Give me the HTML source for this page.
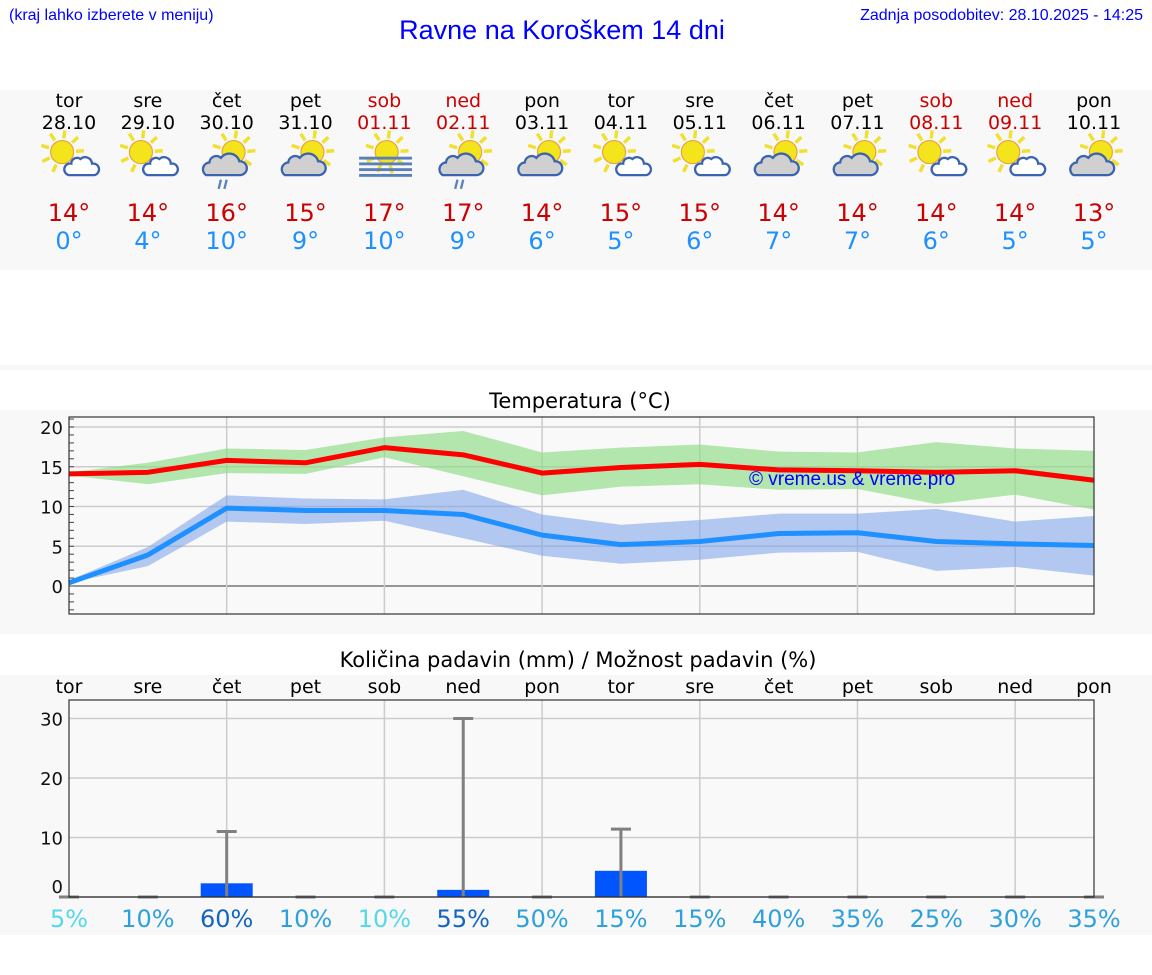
<!DOCTYPE html>
<html><head><meta charset="utf-8">
<style>
body{margin:0;width:1152px;height:975px;background:#fff;position:relative;overflow:hidden;font-family:"DejaVu Sans","Liberation Sans",sans-serif}
.abs{position:absolute}
</style></head>
<body>
<div class="abs" style="left:9px;top:7px;font:16px 'Liberation Sans',sans-serif;color:#0000ff">(kraj lahko izberete v meniju)</div>
<div class="abs" style="left:0;width:1124px;top:15px;text-align:center;font:27px 'Liberation Sans',sans-serif;color:#0000ff">Ravne na Koroškem 14 dni</div>
<div class="abs" style="right:9px;top:7px;font:16px 'Liberation Sans',sans-serif;color:#0000ff">Zadnja posodobitev: 28.10.2025 - 14:25</div>
<svg class="abs" style="left:0;top:0" width="1152" height="975" id="main"></svg>
<script>
const days=["tor","sre","čet","pet","sob","ned","pon","tor","sre","čet","pet","sob","ned","pon"];
const dates=["28.10","29.10","30.10","31.10","01.11","02.11","03.11","04.11","05.11","06.11","07.11","08.11","09.11","10.11"];
const weekend=[0,0,0,0,1,1,0,0,0,0,0,1,1,0];
const icons=["a","a","r","b","f","r","b","a","a","b","b","a","a","b"];
const maxT=[14,14,16,15,17,17,14,15,15,14,14,14,14,13];
const minT=[0,4,10,9,10,9,6,5,6,7,7,6,5,5];
const highLine=[14.1,14.3,15.8,15.5,17.4,16.5,14.2,14.9,15.3,14.6,14.5,14.3,14.5,13.3];
const highUp=[14.3,15.5,17.3,17.1,18.7,19.5,16.8,17.4,17.8,16.9,16.8,18.1,17.3,17.0];
const highLo=[13.9,12.8,14.2,14.1,16.2,13.8,11.4,12.5,12.8,12.1,12.2,10.3,11.5,9.6];
const lowLine=[0.4,3.9,9.8,9.5,9.5,9.0,6.4,5.2,5.6,6.6,6.7,5.6,5.3,5.1];
const lowUp=[0.7,4.9,11.4,11.0,10.9,12.1,9.0,7.7,8.3,9.1,9.1,9.7,8.1,8.8];
const lowLo=[0.4,2.5,8.1,7.8,8.2,6.0,3.8,2.8,3.3,4.2,4.3,1.9,2.4,1.3];
const tempTicks=[0,5,10,15,20];
const precip=[0,0,2.3,0,0,1.2,0,4.4,0,0,0,0,0,0];
const precipMax=[0,0,11,0,0,30,0,11.4,0,0,0,0,0,0];
const prob=[5,10,60,10,10,55,50,15,15,40,35,25,30,35];
const precipTicks=[0,10,20,30];

const NS="http://www.w3.org/2000/svg";
const svg=document.getElementById('main');
function el(t,a,p){const e=document.createElementNS(NS,t);for(const k in a)e.setAttribute(k,a[k]);(p||svg).appendChild(e);return e;}
const X=i=>69+i*(1094-69)/13;
const TY=v=>586-v*7.95;
const PY=v=>897-v*5.95;

let r;
r=el('rect',{x:0,y:90,width:1152,height:180,fill:'#f8f8f8'});

r=el('rect',{x:0,y:365,width:1152,height:5,fill:'#f8f8f8'});
r=el('rect',{x:0,y:410,width:1152,height:224,fill:'#f8f8f8'});

r=el('rect',{x:0,y:675,width:1152,height:260,fill:'#f8f8f8'});


function icon(type,cx,cy,g0){
  const g=el('g',{transform:`translate(${cx},${cy}) scale(1.15) translate(${-cx},${-cy})`},g0);
  const sun=(sx,sy)=>{for(let k=0;k<9;k++){const a=-Math.PI*0.9+k*Math.PI*0.22;el('line',{x1:sx+Math.cos(a)*12,y1:sy+Math.sin(a)*12,x2:sx+Math.cos(a)*19,y2:sy+Math.sin(a)*19,stroke:'#f0e030','stroke-width':3},g);}el('circle',{cx:sx,cy:sy,r:10,fill:'#f4e41c',stroke:'#e8a040','stroke-width':1},g);};
  if(type==='f'){sun(cx+2,cy-6);for(let k=0;k<4;k++)el('rect',{x:cx-22,y:cy-2+k*5,width:46,height:2.5,fill:'#5a80b8'},g);return;}
  if(type==='a'){sun(cx-6,cy-6);el('path',{d:`M${cx},${cy+14} h22 a5,5 0 0 0 -2,-10 a6,6 0 0 0 -10,-4 a5,5 0 0 0 -8,4 a5,5 0 0 0 -2,10z`,fill:'#fff',stroke:'#3a64b0','stroke-width':2},g);return;}
  sun(cx+6,cy-6);
  el('path',{d:`M${cx-18},${cy+14} h30 a6,6 0 0 0 -1,-12 a9,9 0 0 0 -16,-3 a6,6 0 0 0 -10,4 a6,6 0 0 0 -3,11z`,fill:'#d0d0d0',stroke:'#3a64b0','stroke-width':2},g);
  if(type==='r'){el('line',{x1:cx-5,y1:cy+18,x2:cx-7,y2:cy+26,stroke:'#5a80c0','stroke-width':2},g);el('line',{x1:cx,y1:cy+18,x2:cx-2,y2:cy+26,stroke:'#5a80c0','stroke-width':2},g);}
}

for(let i=0;i<14;i++){
  const x=X(i);const c=weekend[i]?'#cc0000':'#000';
  let t=el('text',{x:x,y:107,'text-anchor':'middle','font-size':19,fill:c});t.textContent=days[i];
  
  t=el('text',{x:x,y:129,'text-anchor':'middle','font-size':19,fill:c});t.textContent=dates[i];
  
  const g=el('g',{});
  icon(icons[i],x,159,g);
  t=el('text',{x:x,y:221,'text-anchor':'middle','font-size':24,fill:'#cc0000'});t.textContent=maxT[i]+'°';
  
  t=el('text',{x:x,y:249,'text-anchor':'middle','font-size':24,fill:'#1e90ff'});t.textContent=minT[i]+'°';
  
}

let t=el('text',{x:580,y:408,'text-anchor':'middle','font-size':21,fill:'#000'});t.textContent='Temperatura (°C)';

el('rect',{x:69,y:417,width:1025,height:197,fill:'#f9f9f9'});
for(const v of tempTicks){el('line',{x1:69,x2:1094,y1:TY(v),y2:TY(v),stroke:v===0?'#333':'#ccc','stroke-width':v===0?1:1.5});
  t=el('text',{x:63,y:TY(v)+7,'text-anchor':'end','font-size':18,fill:'#111'});t.textContent=v;
  }
for(let v=-3;v<=21;v++){el('line',{x1:69,x2:74,y1:TY(v),y2:TY(v),stroke:'#444','stroke-width':1});}
for(let i=2;i<14;i+=2)el('line',{x1:X(i),x2:X(i),y1:417,y2:614,stroke:'#ccc','stroke-width':1.5});
function band(up,lo,fill,name){let d='';up.forEach((v,i)=>d+=(i?'L':'M')+X(i)+','+TY(v));for(let i=lo.length-1;i>=0;i--)d+='L'+X(i)+','+TY(lo[i]);const p=el('path',{d:d+'Z',fill:fill});}
function line(vals,col,name){const p=el('polyline',{points:vals.map((v,i)=>X(i)+','+TY(v)).join(' '),fill:'none',stroke:col,'stroke-width':5,'stroke-linejoin':'round'});}
band(highUp,highLo,'rgba(140,220,130,0.65)','max-temp-range');
band(lowUp,lowLo,'rgba(120,160,235,0.55)','min-temp-range');
line(highLine,'#ff0000','max-temp-line');
line(lowLine,'#1e90ff','min-temp-line');
t=el('text',{x:749,y:485,'font-size':19,fill:'#0000ff','font-family':'Liberation Sans,sans-serif'});t.textContent='© vreme.us & vreme.pro';

el('rect',{x:69,y:417,width:1025,height:197,fill:'none',stroke:'#333','stroke-width':1.2});

t=el('text',{x:578,y:667,'text-anchor':'middle','font-size':21,fill:'#000'});t.textContent='Količina padavin (mm) / Možnost padavin (%)';

for(let i=0;i<14;i++){t=el('text',{x:X(i),y:693,'text-anchor':'middle','font-size':19,fill:'#000'});t.textContent=days[i];
  }
el('rect',{x:69,y:700,width:1025,height:197,fill:'#f9f9f9'});
for(const v of precipTicks){if(v>0)el('line',{x1:69,x2:1094,y1:PY(v),y2:PY(v),stroke:'#ccc','stroke-width':1.5});
  t=el('text',{x:63,y:PY(v)+(v===0?-4:7),'text-anchor':'end','font-size':18,fill:'#111'});t.textContent=v;
  }
for(let i=2;i<14;i+=2)el('line',{x1:X(i),x2:X(i),y1:700,y2:897,stroke:'#ccc','stroke-width':1.5});
for(let i=0;i<14;i++){
  const x=X(i);
  if(precip[i]>0){const b=el('rect',{x:x-26,y:PY(precip[i]),width:52,height:897-PY(precip[i]),fill:'#0055ff'});}
  const top=PY(precipMax[i]);
  const g=el('g',{});
  el('line',{x1:x,x2:x,y1:top,y2:897,stroke:'#808080','stroke-width':3},g);
  el('line',{x1:x-10,x2:x+10,y1:top,y2:top,stroke:'#808080','stroke-width':3},g);
  const col=(prob[i]===5||(prob[i]===10&&weekend[i]))?'#55d8e8':prob[i]>=55?'#1565c0':'#2ea0dc';
  t=el('text',{x:x,y:927,'text-anchor':'middle','font-size':24,fill:col});t.textContent=prob[i]+'%';
  
}
el('line',{x1:69,x2:1094,y1:897,y2:897,stroke:'#333','stroke-width':1.2});
el('rect',{x:69,y:700,width:1025,height:197,fill:'none',stroke:'#333','stroke-width':1.2});
</script>
</body></html>
